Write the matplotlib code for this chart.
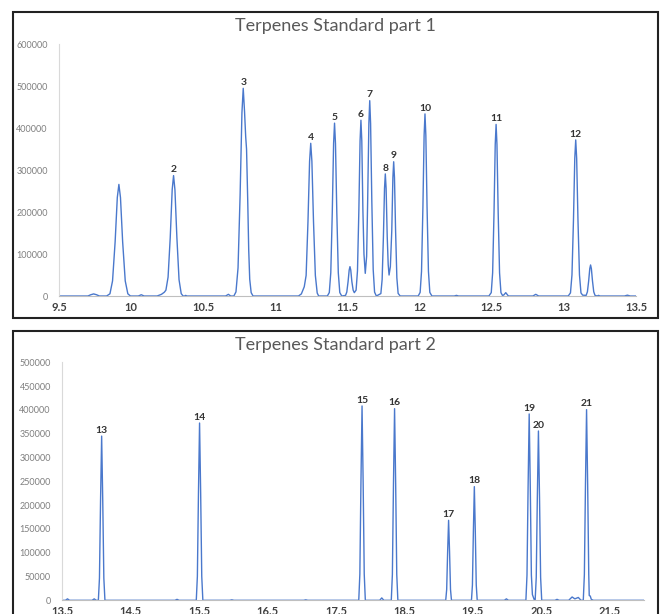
import matplotlib
matplotlib.use("Agg")
import matplotlib.pyplot as plt
from matplotlib.patches import Rectangle

# part 1 trace (retention time, intensity)
time_1 = [9.50, 9.70, 9.72, 9.74, 9.76, 9.78, 9.83,
          9.853, 9.871, 9.889, 9.904, 9.915, 9.926, 9.941, 9.959, 9.977, 9.995,
          10.05, 10.07, 10.09,
          10.18, 10.21, 10.23, 10.241, 10.256, 10.271, 10.2845, 10.294, 10.3035, 10.317, 10.332, 10.347, 10.36,
          10.37, 10.378, 10.386,
          10.655, 10.674, 10.69, 10.712,
          10.7266, 10.741, 10.7554, 10.768, 10.777, 10.786, 10.794, 10.800, 10.808, 10.815, 10.822, 10.832, 10.845,
          11.16, 11.18, 11.20, 11.213, 11.2258, 11.237, 11.245, 11.253, 11.2642, 11.277, 11.2898, 11.30,
          11.36, 11.3736, 11.384, 11.3944, 11.4035, 11.41, 11.4165, 11.4256, 11.436, 11.4464, 11.46,
          11.4862, 11.495, 11.5038, 11.5115, 11.517, 11.5225, 11.5302, 11.539, 11.547,
          11.5594, 11.569, 11.5786, 11.587, 11.593, 11.599, 11.6066, 11.614, 11.623,
          11.6325, 11.6396, 11.648, 11.654, 11.660, 11.6684, 11.678, 11.6876, 11.70,
          11.7312, 11.740, 11.7488, 11.7565, 11.762, 11.7675, 11.7752, 11.782, 11.788,
          11.797, 11.8068, 11.8145, 11.82, 11.8255, 11.8332, 11.842, 11.8508, 11.865,
          11.99, 12.0034, 12.013, 12.0226, 12.031, 12.037, 12.043, 12.0514, 12.061, 12.0706, 12.085,
          12.24, 12.255, 12.27,
          12.48, 12.4964, 12.506, 12.5156, 12.524, 12.53, 12.536, 12.5444, 12.554, 12.5636, 12.575, 12.585, 12.597, 12.615,
          12.785, 12.805, 12.825,
          13.03, 13.0456, 13.056, 13.0664, 13.0755, 13.082, 13.0885, 13.0976, 13.108, 13.1184, 13.13,
          13.1542, 13.163, 13.1718, 13.1795, 13.185, 13.1905, 13.1982, 13.207, 13.2158, 13.23, 13.24, 13.25,
          13.42, 13.44, 13.46, 13.50]
signal_1 = [0, 0, 3000, 5000, 3000, 0, 0,
            5300, 36000, 129500, 234700, 266000, 234700, 129500, 36000, 5300, 0,
            0, 3000, 0,
            0, 4000, 9000, 14000, 45000, 139700, 253300, 287000, 253300, 139700, 38800, 5700, 0,
            0, 1500, 0,
            0, 4000, 0, 0,
            9800, 67000, 241000, 436800, 495000, 440000, 380000, 350000, 230000, 110000, 40000, 8000, 0,
            0, 5000, 22000, 49000, 177000, 321000, 364000, 321000, 177000, 49000, 7200, 0,
            0, 8200, 55700, 200600, 363600, 412000, 363600, 200600, 55700, 8200, 0,
            1400, 9500, 34100, 61800, 70000, 61800, 34100, 14000, 8000,
            14000, 60000, 204000, 369800, 419000, 369800, 204000, 100000, 54000,
            95000, 226700, 410900, 465600, 410900, 226700, 63000, 9200, 0,
            5800, 39400, 141700, 256800, 291000, 256800, 141700, 75000, 50000,
            70000, 155800, 282400, 320000, 282400, 155800, 43300, 6300, 0,
            0, 8600, 58700, 211300, 383000, 434000, 383000, 211300, 58700, 8600, 0,
            0, 1500, 0,
            0, 8100, 55300, 199100, 361000, 409000, 361000, 199100, 55300, 8100, 1000, 3000, 8000, 0,
            0, 4000, 0,
            0, 7400, 50300, 181100, 328300, 372000, 328300, 181100, 50300, 7400, 2000,
            1500, 10000, 36000, 65300, 74000, 65300, 36000, 10000, 1500, 0, 1500, 0,
            0, 2000, 0, 0]

# peak numbers part 1 and where they sit
labels_1 = ["2", "3", "4", "5", "6", "7", "8", "9", "10", "11", "12"]
label_time_1 = [10.294, 10.777, 11.245, 11.41, 11.593, 11.654, 11.762, 11.82, 12.037, 12.53, 13.082]
label_height_1 = [287000, 495000, 364000, 412000, 419000, 465600, 291000, 320000, 434000, 409000, 372000]

# part 2 trace
time_2 = [13.50, 13.55, 13.58, 13.61, 13.94, 13.97, 14.00,
          14.031, 14.047, 14.063, 14.079, 14.095, 14.111, 14.127,
          15.15, 15.18, 15.21,
          15.461, 15.477, 15.493, 15.509, 15.525, 15.541, 15.557,
          15.95, 15.98, 16.01, 17.03, 17.06, 17.09,
          17.834, 17.850, 17.866, 17.882, 17.898, 17.914, 17.930,
          18.14, 18.17, 18.20,
          18.309, 18.325, 18.341, 18.357, 18.373, 18.389, 18.405,
          19.104, 19.118, 19.132, 19.146, 19.160, 19.174, 19.188,
          19.480, 19.494, 19.508, 19.522, 19.536, 19.550, 19.564,
          19.96, 19.99, 20.02,
          20.275, 20.291, 20.307, 20.323, 20.339, 20.355, 20.37, 20.385, 20.40,
          20.41, 20.426, 20.442, 20.458, 20.474, 20.490, 20.506,
          20.70, 20.73, 20.76, 20.90, 20.95, 20.99, 21.04, 21.08,
          21.113, 21.129, 21.145, 21.161, 21.177, 21.193, 21.20, 21.215, 21.23, 21.26,
          22.0]
signal_2 = [0, 0, 3000, 0, 0, 3000, 0,
            0, 46600, 209400, 345000, 209400, 46600, 0,
            0, 2000, 0,
            0, 50300, 226100, 372500, 226100, 50300, 0,
            0, 1000, 0, 0, 1000, 0,
            0, 55100, 247800, 408300, 247800, 55100, 0,
            0, 5000, 0,
            0, 54400, 244400, 402700, 244400, 54400, 0,
            0, 22700, 102000, 168000, 102000, 22700, 0,
            0, 32200, 145000, 238800, 145000, 32200, 0,
            0, 3000, 0,
            0, 52900, 237600, 391500, 237600, 52900, 12000, 6000, 0,
            0, 48000, 215900, 355700, 215900, 48000, 0,
            0, 2000, 0, 0, 7000, 3000, 6000, 0,
            0, 54100, 243200, 400600, 243200, 54100, 10000, 9000, 2000, 0,
            0]

labels_2 = ["13", "14", "15", "16", "17", "18", "19", "20", "21"]
label_time_2 = [14.079, 15.509, 17.882, 18.357, 19.146, 19.522, 20.323, 20.458, 21.161]
label_height_2 = [345000, 372500, 408300, 402700, 168000, 238800, 391500, 355700, 400600]

xticks_1 = [9.5, 10, 10.5, 11, 11.5, 12, 12.5, 13, 13.5]
xticks_2 = [13.5, 14.5, 15.5, 16.5, 17.5, 18.5, 19.5, 20.5, 21.5]

plt.rcParams['font.family'] = ['Lato', 'DejaVu Sans']
line_color = '#4a78cc'

fig = plt.figure(figsize=(6.61, 6.14), dpi=100)


def style_axis(ax, yticks, xticks):
    # excel-ish look: light axis lines, grey numbers, no tick marks
    ax.spines['top'].set_visible(False)
    ax.spines['right'].set_visible(False)
    ax.spines['left'].set_color('#d9d9d9')
    ax.spines['bottom'].set_color('#bfbfbf')
    ax.set_yticks(yticks)
    ax.set_yticklabels([str(v) for v in yticks])
    ax.set_xticks(xticks)
    ax.set_xticklabels([('%g' % v) for v in xticks])
    ax.tick_params(axis='y', length=0, pad=8, labelsize=6.5, labelcolor='#7f7f7f')
    ax.tick_params(axis='x', length=0, pad=4, labelsize=8, labelcolor='#404040')
    for lab in ax.get_xticklabels():
        lab.set_fontweight('bold')


# top chart
ax1 = fig.add_axes([0.0893, 0.5179, 0.8729, 0.41])
ax1.plot(time_1, signal_1, color=line_color, lw=1.0)
ax1.set_xlim(9.5, 13.5)
ax1.set_ylim(0, 600000)
style_axis(ax1, list(range(0, 600001, 100000)), xticks_1)
for lab, t, h in zip(labels_1, label_time_1, label_height_1):
    ax1.annotate(lab, xy=(t, h), xytext=(0, 1), textcoords='offset points',
                 ha='center', va='bottom', fontsize=7.5, color='#333333', fontweight='bold')

# bottom chart
ax2 = fig.add_axes([0.0938, 0.0223, 0.8805, 0.3876])
ax2.plot(time_2, signal_2, color=line_color, lw=1.0)
ax2.set_xlim(13.5, 22.0)
ax2.set_ylim(0, 500000)
style_axis(ax2, list(range(0, 500001, 50000)), xticks_2)
for lab, t, h in zip(labels_2, label_time_2, label_height_2):
    ax2.annotate(lab, xy=(t, h), xytext=(0, 1), textcoords='offset points',
                 ha='center', va='bottom', fontsize=7.5, color='#333333', fontweight='bold')

# titles and the black frames round each chart
fig.text(0.508, 0.958, 'Terpenes Standard part 1', ha='center', va='center', fontsize=13, color='#595959')
fig.text(0.508, 0.4381, 'Terpenes Standard part 2', ha='center', va='center', fontsize=13, color='#595959')
fig.add_artist(Rectangle((0.0197, 0.4821), 0.9758, 0.4984, transform=fig.transFigure,
                         fill=False, lw=1.5, edgecolor='#222222'))
fig.add_artist(Rectangle((0.0197, -0.05), 0.9758, 0.5109, transform=fig.transFigure,
                         fill=False, lw=1.5, edgecolor='#222222'))

fig.savefig('out.png', dpi=100)
